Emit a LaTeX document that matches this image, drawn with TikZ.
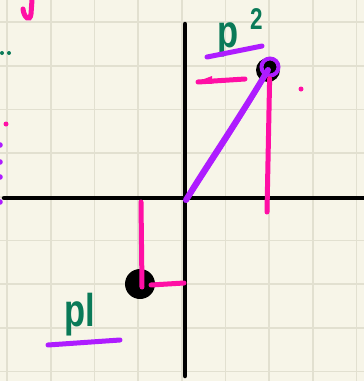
\documentclass[tikz,border=0pt]{standalone}
\usepackage{fontspec}
\setmainfont{Liberation Sans}
\usetikzlibrary{calc}
\definecolor{paper}{HTML}{F7F5E8}
\definecolor{gridc}{HTML}{E2E0D0}
\definecolor{inkpink}{HTML}{FF0FA5}
\definecolor{inkpurple}{HTML}{AE1CFF}
\definecolor{inkgreen}{HTML}{0A7A58}
\begin{document}
\begin{tikzpicture}[
  x=1pt, y=-1pt,
  gridline/.style={draw=gridc, line width=1.6pt},
  axis/.style={draw=black, line width=4.5pt, line cap=round},
  pinkstroke/.style={draw=inkpink, line width=5pt, line cap=round},
  purplestroke/.style={draw=inkpurple, line width=5pt, line cap=round},
  lbl/.style={text=inkgreen, font=\bfseries\fontsize{46}{46}\selectfont, inner sep=0pt, xscale=0.75},
  pt/.style={circle, fill=black, inner sep=0pt}]
\fill[paper] (0,0) rectangle (364,381);
\useasboundingbox (0,0) rectangle (364,381);
% squared paper
\foreach \i in {0,...,8} {
  \draw[gridline] ({7+43.7*\i},0) -- ({7+43.7*\i},381);
  \draw[gridline] (0,{22+43.7*\i}) -- (364,{22+43.7*\i});
}
% axes
\coordinate (o) at (186,200);
\draw[axis] (4,198) -- (364,198);
\draw[axis] (185,24) -- (185,376);
% points
\node[pt, minimum size=24pt] (p2) at (268,70) {};
\node[pt, minimum size=30pt] (p1) at (140,284) {};
\draw[inkpurple, line width=4pt] (270,67) circle (8.5);
% vector to p2
\draw[purplestroke, line width=6pt] (o) .. controls (205,168) and (235,125) .. (p2.center);
\draw[purplestroke, line width=3pt] ($(o)+(3,-2)$) .. controls (212,162) and (240,120) .. ($(p2.center)+(-1,4)$);
% projections
\draw[pinkstroke] (p2.south east) ++(-7,0) -- (267,212);
\draw[pinkstroke] (141,202) -- (142,287);
\draw[pinkstroke] (151,285) -- (184,283);
\fill[inkpink] (301,89) circle (2.5);
% labels
\node[lbl, anchor=base west] (p2lbl) at (217,47) {p};
\node[lbl, anchor=base west, font=\bfseries\fontsize{30}{30}\selectfont] (p2sup) at (250,29) {2};
\draw[purplestroke] (207,57) -- (262,46);
\draw[pinkstroke] (198,82) -- (245,79);
\fill[inkpink] (196,82) -- (212,76) -- (212,84) -- cycle;
\node[lbl, anchor=base west] (p1lbl) at (64,326) {pl};
\draw[purplestroke] (48,345) -- (120,340);
% stray marks at the left edge
\draw[pinkstroke] (32,0) -- (31,14) .. controls (30,22) and (24,18) .. (23,9);
\fill[inkgreen] (2,53) circle (2) (9,53) circle (2);
\fill[inkpink] (6,124) circle (2.5);
\foreach \y in {145,162,177,202} \fill[inkpurple] (0,\y) circle (2.8);
\end{tikzpicture}
\end{document}
